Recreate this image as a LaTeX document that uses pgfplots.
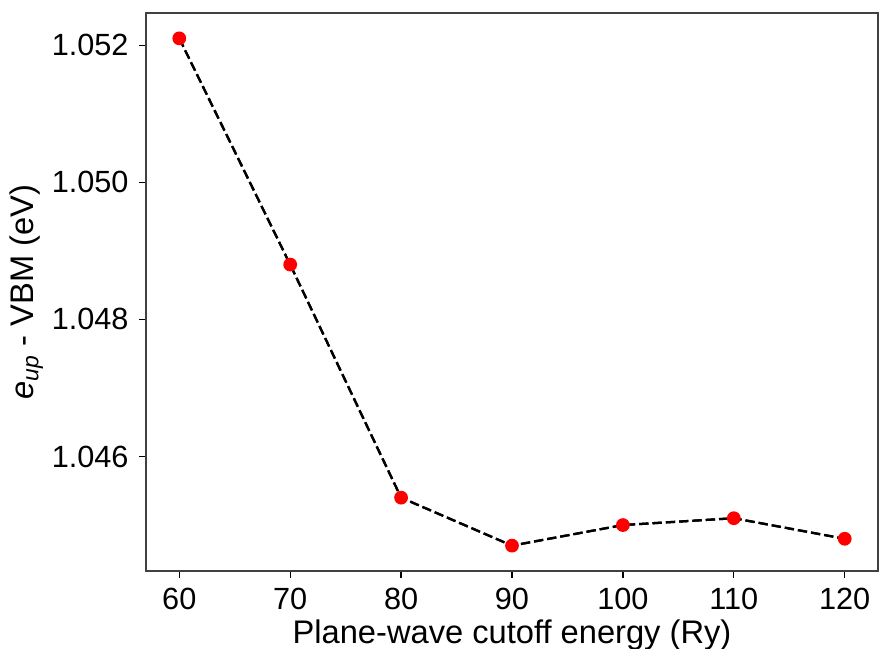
\documentclass[border=0pt]{standalone}
\usepackage{fontspec}
\setmainfont{Liberation Sans}
\usepackage{pgfplots}
\pgfplotsset{compat=1.18}
\begin{document}
\fontsize{23pt}{27pt}\selectfont
\begin{tikzpicture}[x=0.75pt,y=0.75pt]
\begin{axis}[
  scale only axis,
  width=549pt, height=418.5pt,
  xmin=57, xmax=123,
  ymin=1.04433, ymax=1.05247,
  xtick={60,70,80,90,100,110,120},
  ytick={1.046,1.048,1.050,1.052},
  /pgf/number format/assume math mode=true,
  yticklabel style={/pgf/number format/.cd,fixed,precision=3,zerofill},
  scaled y ticks=false,
  tick align=outside,
  tick pos=left,
  major tick length=5.25pt,
  every tick/.style={black, line width=0.9pt},
  axis line style={black!75, line width=1pt},
  ticklabel style={font=\fontsize{23pt}{27pt}\selectfont},
  label style={font=\fontsize{24.5pt}{28pt}\selectfont},
  xlabel={Plane-wave cutoff energy (Ry)},
  ylabel={\textit{e}\textsubscript{\textit{up}} - VBM (eV)},
  xlabel style={yshift=8pt},
  ylabel style={yshift=-9pt},
  clip=false,
]
\addplot[black, line width=1.7pt, dash pattern=on 7pt off 3pt,
  mark=*, mark size=4.3pt, mark options={solid, draw=red, fill=red}]
  coordinates {(60,1.0521) (70,1.0488) (80,1.0454) (90,1.0447) (100,1.0450) (110,1.0451) (120,1.0448)};
\addplot[black, line width=1.7pt, dash pattern=on 7pt off 3pt]
  coordinates {(60,1.0521) (70,1.0488) (80,1.0454) (90,1.0447) (100,1.0450) (110,1.0451) (120,1.0448)};
\end{axis}
\pgfresetboundingbox
\path ([xshift=-109.5pt,yshift=-58.5pt]current axis.south west) rectangle ([xshift=0.75pt,yshift=9.75pt]current axis.north east);
\end{tikzpicture}
\end{document}
